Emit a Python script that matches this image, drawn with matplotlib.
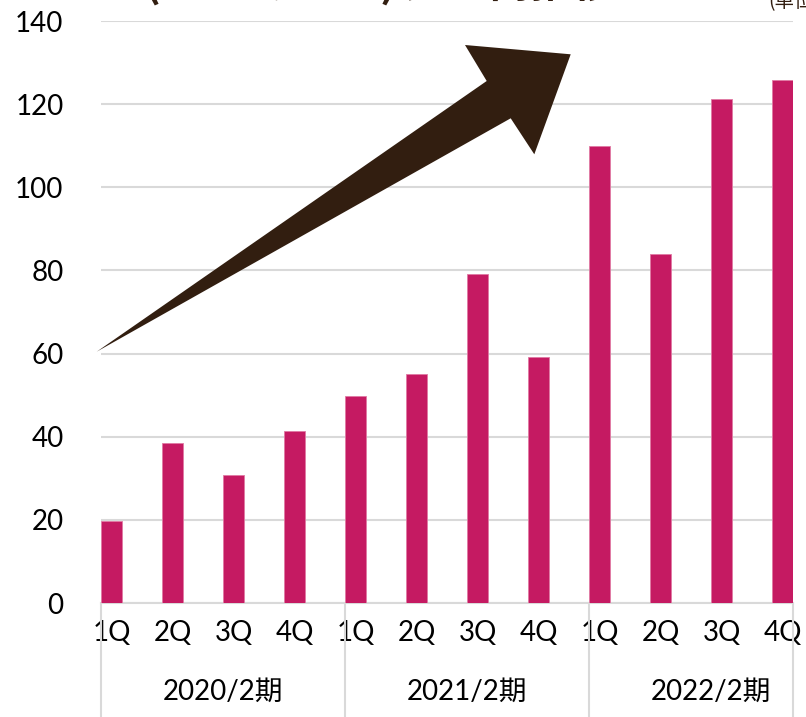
import matplotlib
matplotlib.use("Agg")
import matplotlib.pyplot as plt
from matplotlib.patches import Polygon
from matplotlib.transforms import blended_transform_factory

# data
quarters = ["1Q", "2Q", "3Q", "4Q"] * 3
periods = ["2020/2期", "2021/2期", "2022/2期"]
sales = [19.7, 38.4, 30.7, 41.3, 49.7, 55.0, 79.1, 59.1, 110.0, 83.9, 121.3, 125.9]
yticks = [0, 20, 40, 60, 80, 100, 120, 140]

plt.rcParams['font.family'] = ['Lato', 'Noto Sans CJK JP', 'DejaVu Sans']

W, H = 806, 717
fig = plt.figure(figsize=(W / 100, H / 100), dpi=100)
ax = fig.add_axes([101 / W, 1 - 603 / H, (793 - 101) / W, (603 - 21) / H])

bw = 0.343
x = list(range(len(sales)))
ax.bar(x, sales, width=bw, color="#C51A62", edgecolor="#E07AA3", linewidth=0.6, zorder=3)

ax.set_xlim(-bw / 2, len(sales) - 1 + bw / 2)
ax.set_ylim(0, 140)
ax.set_yticks(yticks)
ax.set_yticklabels([str(v) for v in yticks], fontsize=20)
ax.set_xticks(x)
ax.set_xticklabels(quarters, fontsize=20)
ax.tick_params(axis="y", length=0, pad=27)
ax.tick_params(axis="x", length=0, pad=12)
ax.grid(axis="y", color="#D9D9D9", linewidth=1.5, zorder=0)
for s in ["top", "right", "left"]:
    ax.spines[s].set_visible(False)
ax.spines["bottom"].set_color("#D9D9D9")
ax.spines["bottom"].set_linewidth(1.5)

# group dividers and period labels
tr = blended_transform_factory(ax.transData, ax.transAxes)
depth = -(H - 603) / (603 - 21)
for g in range(len(periods) + 1):
    xd = g * 4 - bw / 2 if g < len(periods) else len(sales) - 1 + bw / 2
    ax.plot([xd, xd], [0, depth], transform=tr, color="#D9D9D9", lw=1.5, clip_on=False)
for g, p in enumerate(periods):
    ax.text(g * 4 - bw / 2 + 2, -(692 - 603) / (603 - 21), p, transform=tr,
            ha="center", va="center", fontsize=20)

# growth arrow (figure pixel coordinates)
arrow_px = [(96.7, 351.7), (486.7, 81), (465, 45), (570.7, 54.3), (534.3, 154.3), (510.7, 118.3)]
arrow = Polygon([(px / W, 1 - py / H) for px, py in arrow_px], closed=True,
                transform=fig.transFigure, facecolor="#321E10", edgecolor="none", zorder=5)
fig.patches.append(arrow)

# title and unit text, cut by the top edge as in the source slide
fig.text(145 / W, 1 + 3 / H, "(EC・ギフト) 売上高推移", fontsize=30, fontweight="bold",
         color="#321E10", va="baseline", ha="left", family=['Noto Sans CJK JP'])
fig.text(768 / W, 1 - 7 / H, "(単位：百万円)", fontsize=14, color="#321E10", va="baseline", ha="left",
         family=['Noto Sans CJK JP'])

fig.savefig("out.png", dpi=100)
